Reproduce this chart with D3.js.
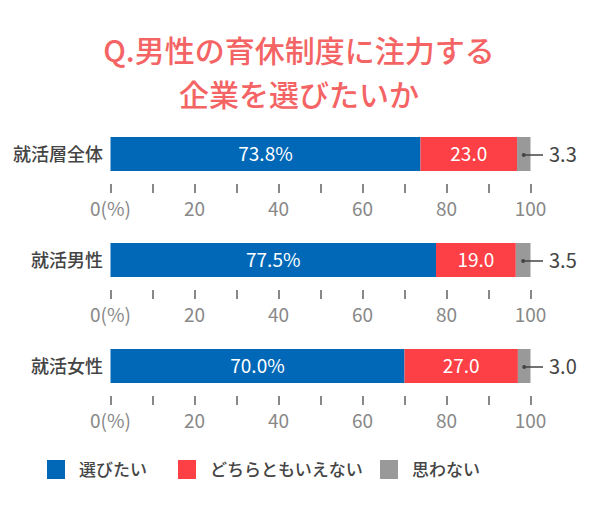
<!DOCTYPE html>
<html>
<head>
<meta charset="utf-8">
<script src="https://cdn.jsdelivr.net/npm/d3@7"></script>
<style>
  body { margin: 0; background: #fff; }
  text { font-family: "Noto Sans CJK JP", "Noto Sans", sans-serif; }
</style>
</head>
<body>
<div id="chart"></div>
<script>
var categories = ["就活層全体", "就活男性", "就活女性"];
var seriesNames = ["選びたい", "どちらともいえない", "思わない"];
var yesValues = [73.8, 77.5, 70.0];
var neutralValues = [23.0, 19.0, 27.0];
var noValues = [3.3, 3.5, 3.0];
var tickValues = [0, 20, 40, 60, 80, 100];
var titleLines = ["Q.男性の育休制度に注力する", "企業を選びたいか"];

var colors = ["#0068b7", "#fc4046", "#999999"];

function init() {
  createChart();
}

function createChart() {
  var width = 600, height = 508;

  var svg = d3.select("div#chart")
      .append("svg")
      .attr("width", width)
      .attr("height", height);

  var x = d3.scaleLinear().domain([0, 100]).range([110.5, 530.5]);

  // title
  svg.selectAll("text.title")
      .data(titleLines)
      .enter()
      .append("text")
      .attr("class", "title")
      .attr("x", 299)
      .attr("y", function(d, i) { return 62 + i * 44; })
      .attr("text-anchor", "middle")
      .attr("font-size", "30px")
      .attr("font-weight", "500")
      .attr("fill", "#f46464")
      .text(function(d) { return d; });

  var barTop = [137, 243, 349];
  var barH = 34;

  categories.forEach(function(cat, i) {
    var vals = [yesValues[i], neutralValues[i], noValues[i]];
    var g = svg.append("g").attr("transform", "translate(0," + barTop[i] + ")");

    var start = 0;
    var segs = vals.map(function(v) {
      var s = { x0: start, x1: start + v, v: v };
      start += v;
      return s;
    });

    g.selectAll("rect")
        .data(segs)
        .enter()
        .append("rect")
        .attr("x", function(d) { return x(d.x0); })
        .attr("width", function(d) { return x(Math.min(d.x1, 100)) - x(d.x0); })
        .attr("y", 0)
        .attr("height", barH)
        .attr("fill", function(d, j) { return colors[j]; });

    // labels inside
    g.append("text")
        .attr("x", (x(segs[0].x0) + x(segs[0].x1)) / 2)
        .attr("y", barH / 2 + 7)
        .attr("text-anchor", "middle")
        .attr("font-size", "19px")
        .attr("fill", "#fff")
        .text(segs[0].v.toFixed(1) + "%");

    g.append("text")
        .attr("x", (x(segs[1].x0) + x(segs[1].x1)) / 2)
        .attr("y", barH / 2 + 7)
        .attr("text-anchor", "middle")
        .attr("font-size", "19px")
        .attr("fill", "#fff")
        .text(segs[1].v.toFixed(1));

    // leader for small segment
    var cx = (x(segs[2].x0) + x(Math.min(segs[2].x1, 100))) / 2;
    g.append("circle")
        .attr("cx", cx)
        .attr("cy", barH / 2 + 1)
        .attr("r", 2)
        .attr("fill", "#444");
    g.append("line")
        .attr("x1", cx)
        .attr("x2", 543)
        .attr("y1", barH / 2 + 1)
        .attr("y2", barH / 2 + 1)
        .attr("stroke", "#444")
        .attr("stroke-width", 1.5);
    g.append("text")
        .attr("x", 549)
        .attr("y", barH / 2 + 8)
        .attr("font-size", "20px")
        .attr("fill", "#444")
        .text(segs[2].v.toFixed(1));

    // category label
    g.append("text")
        .attr("x", 103)
        .attr("y", barH / 2 + 7)
        .attr("text-anchor", "end")
        .attr("font-size", "18px")
        .attr("font-weight", "500")
        .attr("fill", "#444")
        .text(cat);

    // axis
    var axis = d3.axisBottom(x)
        .tickValues(d3.range(0, 101, 10))
        .tickSize(9)
        .tickFormat("");
    var ag = g.append("g")
        .attr("transform", "translate(0," + (barH + 13) + ")")
        .call(axis);
    ag.select(".domain").remove();
    ag.selectAll(".tick line")
        .attr("stroke", "#888")
        .attr("stroke-width", 2);

    g.selectAll("text.tick-label")
        .data(tickValues)
        .enter()
        .append("text")
        .attr("class", "tick-label")
        .attr("x", function(d) { return x(d); })
        .attr("y", 79)
        .attr("text-anchor", "middle")
        .attr("font-size", "19px")
        .attr("fill", "#888")
        .text(function(d) { return d === 0 ? "0(%)" : d; });
  });

  // legend
  var legX = [47, 178, 380];
  var lg = svg.selectAll("g.legend")
      .data(seriesNames)
      .enter()
      .append("g")
      .attr("class", "legend")
      .attr("transform", function(d, i) { return "translate(" + legX[i] + ",460)"; });
  lg.append("rect")
      .attr("width", 18)
      .attr("height", 19)
      .attr("fill", function(d, i) { return colors[i]; });
  lg.append("text")
      .attr("x", 32)
      .attr("y", 16)
      .attr("font-size", "17px")
      .attr("font-weight", "500")
      .attr("fill", "#444")
      .text(function(d) { return d; });
}

init();
</script>
</body>
</html>
